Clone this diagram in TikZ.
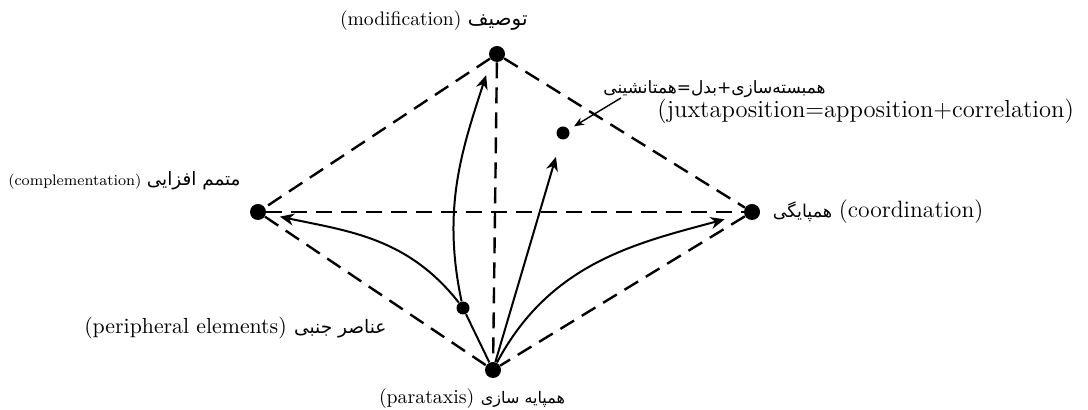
\documentclass[tikz,border=0pt]{standalone}
\usepackage{fontspec}
\usetikzlibrary{arrows.meta,positioning}
\newfontfamily\fafont[Script=Arabic]{DejaVu Sans}
\TeXXeTstate=1
\newcommand{\fatext}[2][8.5]{{\fafont\fontsize{#1}{#1}\selectfont\beginR #2\endR}}
\newcommand{\lsize}[1]{\fontsize{#1}{#1}\selectfont}

\begin{document}
\begin{tikzpicture}[
  x=0.5pt, y=-0.5pt,
  vertex/.style={circle, fill, inner sep=0pt, minimum size=8pt},
  lbl/.style={inner sep=0pt},
  rel/.style={line width=1.2pt, dash pattern=on 8pt off 4.5pt},
  arr/.style={-{Stealth[length=7pt,width=6pt]}, line width=1pt},
  ptr/.style={-{Stealth[length=5pt,width=4pt]}, line width=0.7pt}
]
\useasboundingbox (0,0) rectangle (1088,410);
% vertices of the diamond
\node[vertex] (T) at (497,54) {};
\node[vertex] (L) at (258,212) {};
\node[vertex] (R) at (752,212) {};
\node[vertex] (B) at (493,370) {};
\node[vertex, minimum size=6.5pt] (J) at (563,133) {};
\node[vertex, minimum size=6.5pt] (P) at (463,308) {};
% labels
\node[lbl, anchor=east] (Tlab) at (528,21) {\lsize{9.8}(modification) \fatext[10]{توصیف}};
\node[lbl, anchor=east] (Llab) at (241,181) {\lsize{7.6}(complementation) \fatext[9.2]{متمم افزایی}};
\node[lbl, right=6pt of R] (Rlab) {\fatext[8.8]{همپایگی} \lsize{11.8}(coordination)};
\node[lbl, below=5pt of B, xshift=-10.5pt] (Blab) {\lsize{9.9}(parataxis) \fatext[8]{همپایه سازی}};
\node[lbl, anchor=east] (Plab) at (387,328) {\lsize{10.9}(peripheral elements) \fatext[9.3]{عناصر جنبی}};
\node[lbl, anchor=west] (Jfa) at (603,89) {\fatext{همبسته‌سازی+بدل=همتانشینی}};
\node[lbl, anchor=west] (Jen) at (657,111) {\lsize{12.3}(juxtaposition=apposition+correlation)};
% dashed relations
\draw[rel] (T) -- (L);
\draw[rel] (T) -- (R);
\draw[rel] (L) -- (B);
\draw[rel] (R) -- (B);
\draw[rel] (L) -- (R);
\draw[rel] (T) -- (B);
% solid arrows
\draw[line width=1pt] (B) -- (P);
\draw[arr, shorten >=8pt] (P) to[out=102, in=-108] (T.225);
\draw[arr, shorten >=7pt] (P) to[out=128, in=-12] (L);
\draw[arr, shorten >=9pt] (B) -- (J);
\draw[arr, shorten >=10pt] (B) to[out=62, in=195] (R);
\draw[ptr, shorten >=3pt] ([xshift=9pt]Jfa.south west) -- (J);
\end{tikzpicture}
\end{document}
